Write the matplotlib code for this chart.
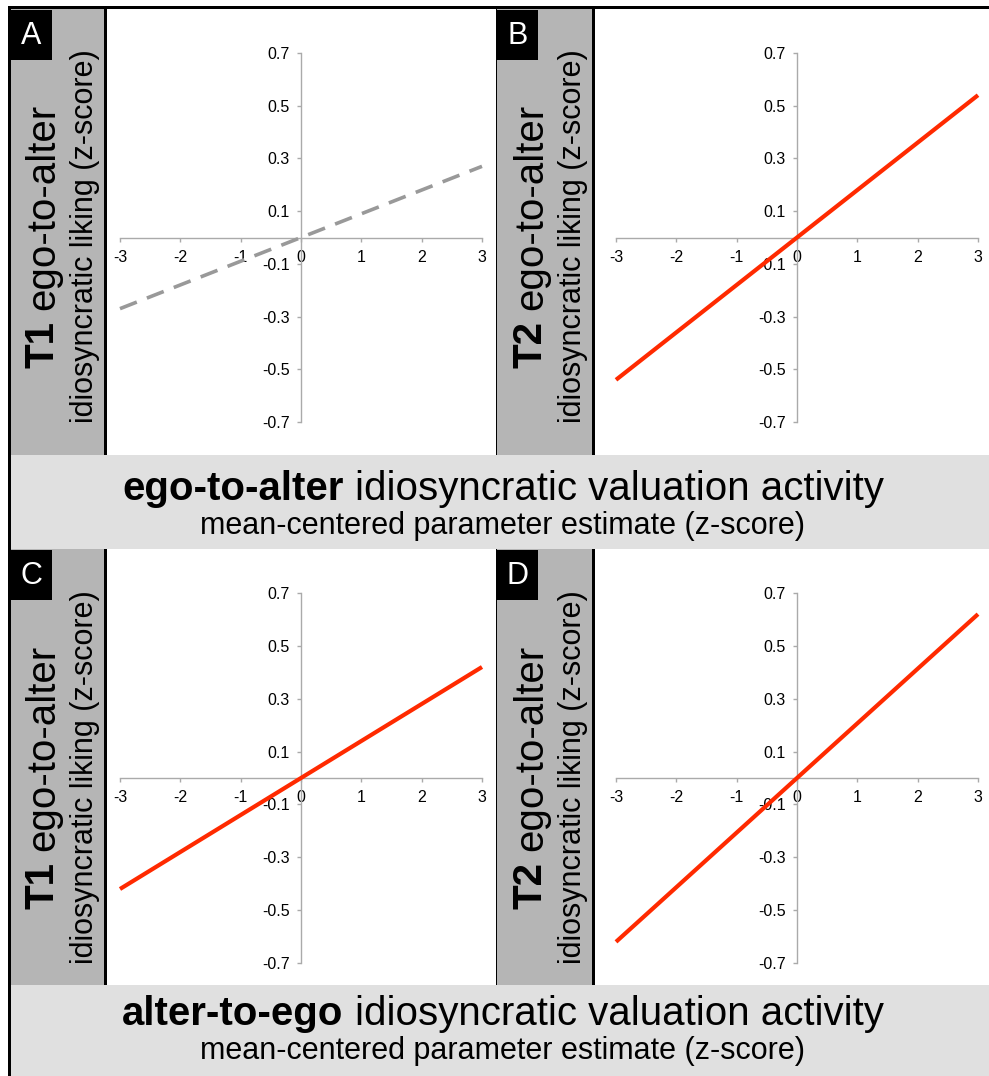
import matplotlib
matplotlib.use('Agg')
import matplotlib.pyplot as plt
from matplotlib.patches import Rectangle

plt.rcParams['font.family'] = ['Liberation Sans', 'DejaVu Sans']

# --- data ---
x_ends = [-3, 3]
fit_a = [-0.27, 0.27]   # T1, ego-to-alter (n.s., dashed)
fit_b = [-0.54, 0.54]   # T2, ego-to-alter
fit_c = [-0.42, 0.42]   # T1, alter-to-ego
fit_d = [-0.62, 0.62]   # T2, alter-to-ego
panel_letters = ['A', 'B', 'C', 'D']
panel_times = ['T1', 'T2', 'T1', 'T2']
x_ticks = [-3, -2, -1, 0, 1, 2, 3]
y_ticks = [-0.7, -0.5, -0.3, -0.1, 0.1, 0.3, 0.5, 0.7]
banner_bold = ['ego-to-alter', 'alter-to-ego']
banner_rest = 'idiosyncratic valuation activity'
banner_sub = 'mean-centered parameter estimate (z-score)'
strip_rest = 'ego-to-alter'
strip_sub = 'idiosyncratic liking (z-score)'

W, H = 989, 1076
STRIP_GRAY = '#b5b5b5'
BANNER_GRAY = '#e0e0e0'
RED = '#ff2a00'

fig = plt.figure(figsize=(W / 100, H / 100), dpi=100, facecolor='white')
bg = fig.add_axes([0, 0, 1, 1])
bg.set_xlim(0, W)
bg.set_ylim(H, 0)
bg.axis('off')
renderer = fig.canvas.get_renderer()


def text_width(s, size, weight='normal'):
    t = bg.text(0, 0, s, fontsize=size, fontweight=weight)
    w = t.get_window_extent(renderer).width
    t.remove()
    return w


def mixed_text(cx, cy, bold, rest, size, rotated=False):
    w1 = text_width(bold, size, 'bold')
    w2 = text_width(rest, size)
    gap = 0.278 * size * 100 / 72
    total = w1 + gap + w2
    kw = dict(fontsize=size, ha='left', va='baseline', rotation_mode='anchor')
    if rotated:
        y0 = cy + total / 2
        bg.text(cx, y0, bold, fontweight='bold', rotation=90, **kw)
        bg.text(cx, y0 - w1 - gap, rest, rotation=90, **kw)
    else:
        x0 = cx - total / 2
        bg.text(x0, cy, bold, fontweight='bold', **kw)
        bg.text(x0 + w1 + gap, cy, rest, **kw)


def rect(x0, y0, x1, y1, color):
    bg.add_patch(Rectangle((x0, y0), x1 - x0, y1 - y0, facecolor=color,
                           edgecolor='none', zorder=1))


# panel geometry in pixels
row_top = [9, 549]
row_bot = [455, 985]
strip_cy = [236, 777]
strip_left = [11, 497]
strip_right = [104, 592]
ax_left = [120, 616]
ax_right = [482, 978]
ax_top = [53, 593]
ax_bot = [422, 963]
fits = [fit_a, fit_b, fit_c, fit_d]

for i in range(4):
    r, c = i // 2, i % 2
    # grey strip with the y label
    rect(strip_left[c], row_top[r], strip_right[c], row_bot[r], STRIP_GRAY)
    rect(strip_right[c], row_top[r], strip_right[c] + 2.5, row_bot[r], 'black')
    if c == 1:
        rect(strip_left[c] - 1, row_top[r], strip_left[c], row_bot[r], 'black')
    # panel letter
    rect(strip_left[c], row_top[r] + 1, strip_left[c] + 41, row_top[r] + 51, 'black')
    bg.text(strip_left[c] + 20.5, row_top[r] + 27, panel_letters[i], color='white',
            fontsize=22, ha='center', va='center', zorder=3)
    cy = strip_cy[r]
    mixed_text(strip_right[c] - 50, cy, panel_times[i], strip_rest, 29, rotated=True)
    bg.text(strip_right[c] - 11, cy, strip_sub, fontsize=22, rotation=90,
            rotation_mode='anchor', ha='center', va='baseline')

    # the plot itself
    ax = fig.add_axes([ax_left[c] / W, 1 - ax_bot[r] / H,
                       (ax_right[c] - ax_left[c]) / W, (ax_bot[r] - ax_top[r]) / H])
    ax.patch.set_alpha(0)
    ax.set_xlim(-3, 3)
    ax.set_ylim(-0.7, 0.7)
    for s in ['top', 'right']:
        ax.spines[s].set_visible(False)
    for s in ['left', 'bottom']:
        ax.spines[s].set_position(('data', 0))
        ax.spines[s].set_color('#aaaaaa')
        ax.spines[s].set_linewidth(1.0)
    ax.set_xticks(x_ticks)
    ax.set_xticklabels([str(v) for v in x_ticks])
    ax.set_yticks(y_ticks)
    ax.set_yticklabels([f'{v:.1f}' for v in y_ticks])
    ax.tick_params(axis='both', direction='out', length=3, width=1, color='#aaaaaa',
                   labelsize=11.5, labelcolor='black')
    ax.tick_params(axis='x', pad=6)
    ax.tick_params(axis='y', pad=5)
    if i == 0:
        ax.plot(x_ends, fits[i], color='#999999', lw=2.6, dashes=(5, 3),
                solid_capstyle='butt', clip_on=False, zorder=3)
    else:
        ax.plot(x_ends, fits[i], color=RED, lw=3.0, solid_capstyle='butt',
                clip_on=False, zorder=3)

# banners with the x label
for r in range(2):
    rect(11, row_bot[r], W, row_bot[r] + 94 if r == 0 else H, BANNER_GRAY)
    base = row_bot[r] + (45 if r == 0 else 40)
    mixed_text(503, base, banner_bold[r], banner_rest, 29)
    bg.text(503, base + 34, banner_sub, fontsize=22, ha='center', va='baseline')

# black frame lines at top and left
rect(8, 6, W, 9, 'black')
rect(8, 6, 11, H, 'black')

fig.savefig('out.png', dpi=100, facecolor='white')
